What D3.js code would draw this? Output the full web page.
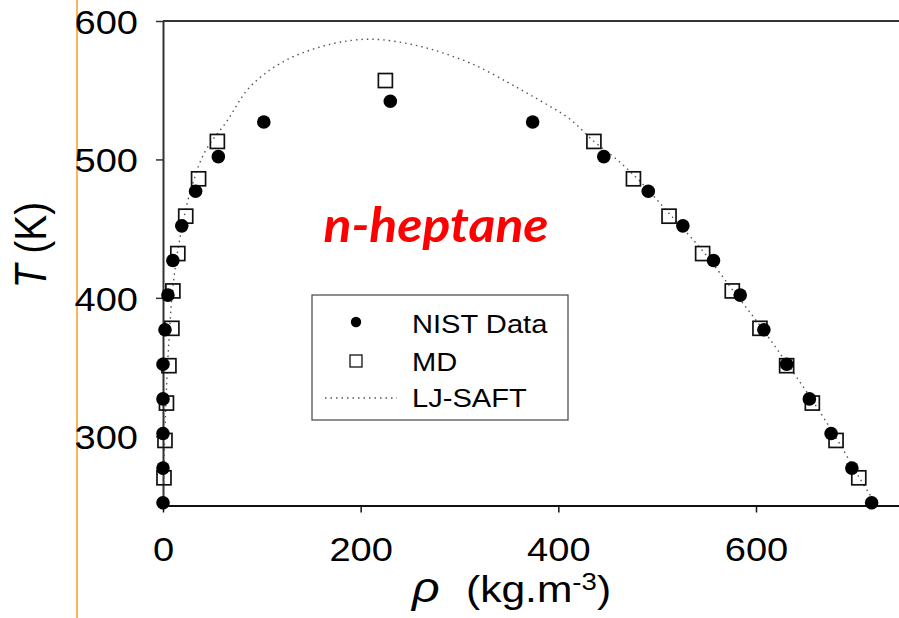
<!DOCTYPE html>
<html>
<head>
<meta charset="utf-8">
<script src="https://cdn.jsdelivr.net/npm/d3@7"></script>
<style>
  body { margin: 0; background: #fff; }
  svg { display: block; font-family: "Liberation Sans", Arial, sans-serif; }
</style>
</head>
<body>
<svg id="chart" width="899" height="618"></svg>
<script>
// NIST saturated densities (kg/m3)
let nistT = [252, 277, 302, 327, 352, 377, 402, 427, 452, 477, 502, 527];
let nistRhoV = [0, 0, 0, 0, 0, 2, 5, 10, 19, 33, 56, 102];
let nistRhoL = [717, 697, 676, 654, 631, 608, 584, 557, 526, 491, 446, 374];
let nistCrit = [230, 542];

// MD results
let mdT = [270, 297, 324, 351, 378, 405, 432, 459, 486, 513];
let mdRhoV = [1, 2, 3.5, 6, 9, 10, 15, 23, 36, 55];
let mdRhoL = [704, 681, 657, 631, 604, 576, 546, 512, 476, 436];
let mdCrit = [225, 557];

// LJ-SAFT curve, vapour branch then liquid branch
let saftRho = [0.3, 1, 1.8, 3, 4.5, 6.5, 9, 13, 19, 27, 42, 65, 85, 105, 128, 149, 171, 191, 207,
  222, 243, 263, 283, 316, 348, 368, 390, 412, 436, 459, 483, 512, 546, 576, 604, 631, 657, 681, 703, 722];
let saftT = [250, 275, 300, 325, 350, 375, 400, 425, 450, 475, 505, 528, 550, 563, 573, 579, 583.5, 586, 586.8,
  586.4, 584.3, 581.2, 577, 568, 556, 548, 539, 529, 513, 500, 484, 461, 434, 406, 380, 353, 326, 299, 272, 250];

let xTicks = [0, 200, 400, 600];
let yTicks = [300, 400, 500, 600];

let svg = d3.select("#chart");
let sx = 1.12; // the source picture is a bit wider than tall

// Set up the scales
let x = d3.scaleLinear().domain([0, 600]).range([163, 756]);
x.domain([0, x.invert(899)]).range([163, 899]);
let y = d3.scaleLinear().domain([250, 600]).range([505.5, 21]);

// orange rule on the left
svg.append("line")
  .attr("x1", 77).attr("x2", 77).attr("y1", 0).attr("y2", 618)
  .attr("stroke", "#fbb45c").attr("stroke-width", 2);

// top frame
svg.append("line")
  .attr("x1", 163).attr("x2", 899).attr("y1", y(600)).attr("y2", y(600))
  .attr("stroke", "#333").attr("stroke-width", 2);

// axes
let xAxis = svg.append("g")
  .attr("transform", "translate(0," + y(250) + ")")
  .call(d3.axisBottom(x).tickValues(xTicks).tickSize(7).tickSizeOuter(0));
xAxis.select(".domain").attr("stroke", "#111").attr("stroke-width", 2);
xAxis.selectAll(".tick line").attr("stroke", "#111").attr("stroke-width", 1.5);
xAxis.selectAll(".tick text")
  .attr("font-size", 34).attr("font-family", "Liberation Sans, Arial, sans-serif")
  .attr("fill", "#000").attr("y", 56).attr("dy", 0)
  .attr("transform", "scale(" + sx + ",1)");

let yAxis = svg.append("g")
  .attr("transform", "translate(" + x(0) + ",0)")
  .call(d3.axisLeft(y).tickValues(yTicks).tickSize(7).tickSizeOuter(0));
yAxis.select(".domain").attr("stroke", "#333").attr("stroke-width", 2);
yAxis.selectAll(".tick line").attr("stroke", "#333").attr("stroke-width", 1.5);
yAxis.selectAll(".tick text")
  .attr("font-size", 34).attr("font-family", "Liberation Sans, Arial, sans-serif")
  .attr("fill", "#000").attr("x", -25 / sx).attr("dy", "0.36em")
  .attr("transform", "scale(" + sx + ",1)");

// LJ-SAFT dotted curve
let saft = saftRho.map((r, i) => [r, saftT[i]]);
let line = d3.line()
  .x(d => x(d[0]))
  .y(d => y(d[1]))
  .curve(d3.curveCatmullRom);
svg.append("path")
  .datum(saft)
  .attr("d", line)
  .attr("fill", "none")
  .attr("stroke", "#555")
  .attr("stroke-width", 1.4)
  .attr("stroke-dasharray", "1.5,4");

// MD squares
let md = mdT.map((t, i) => [mdRhoV[i], t])
  .concat(mdT.map((t, i) => [mdRhoL[i], t]))
  .concat([mdCrit]);
svg.append("g").selectAll("rect")
  .data(md)
  .enter()
  .append("rect")
  .attr("x", d => x(d[0]) - 7)
  .attr("y", d => y(d[1]) - 7)
  .attr("width", 14)
  .attr("height", 14)
  .attr("fill", "none")
  .attr("stroke", "#111")
  .attr("stroke-width", 1.7);

// NIST circles
let nist = nistT.map((t, i) => [nistRhoV[i], t])
  .concat(nistT.map((t, i) => [nistRhoL[i], t]))
  .concat([nistCrit]);
svg.append("g").selectAll("circle")
  .data(nist)
  .enter()
  .append("circle")
  .attr("cx", d => x(d[0]))
  .attr("cy", d => y(d[1]))
  .attr("r", 6.8)
  .attr("fill", "#000");

// title
svg.append("text")
  .attr("transform", "translate(436,242) scale(1.1,1)")
  .attr("text-anchor", "middle")
  .attr("font-family", "Lato, sans-serif")
  .attr("font-weight", "bold")
  .attr("font-style", "italic")
  .attr("font-size", 47)
  .attr("fill", "#ff0000")
  .text("n-heptane");

// legend
let legend = svg.append("g");
legend.append("rect")
  .attr("x", 312).attr("y", 295).attr("width", 256).attr("height", 125)
  .attr("fill", "#fff").attr("stroke", "#444").attr("stroke-width", 1.2);
legend.append("circle").attr("cx", 356).attr("cy", 322).attr("r", 5.2).attr("fill", "#000");
legend.append("rect").attr("x", 350).attr("y", 355).attr("width", 12).attr("height", 12)
  .attr("fill", "none").attr("stroke", "#111").attr("stroke-width", 1.3);
legend.append("line").attr("x1", 325).attr("x2", 397).attr("y1", 398).attr("y2", 398)
  .attr("stroke", "#555").attr("stroke-width", 1.4).attr("stroke-dasharray", "1.5,4");
let legendLabels = ["NIST Data", "MD", "LJ-SAFT"];
legend.selectAll("text.lab")
  .data(legendLabels)
  .enter()
  .append("text")
  .attr("class", "lab")
  .attr("transform", (d, i) => "translate(412," + [333, 371, 407][i] + ") scale(" + sx + ",1)")
  .attr("font-size", 26)
  .attr("fill", "#000")
  .text(d => d);

// axis titles
let xt = svg.append("text")
  .attr("transform", "translate(412,602) scale(1.15,1)")
  .attr("font-size", 37)
  .attr("fill", "#000");
xt.append("tspan").attr("font-style", "italic").attr("font-size", 42).text("\u03c1");
xt.append("tspan").attr("x", (466 - 412) / 1.15).text("(kg.m");
xt.append("tspan").attr("font-size", 24).attr("dy", -12).text("-3");
xt.append("tspan").attr("dy", 12).text(")");

let yt = svg.append("text")
  .attr("transform", "translate(46,245) rotate(-90) scale(1,1.15)")
  .attr("text-anchor", "middle")
  .attr("font-size", 39)
  .attr("fill", "#000");
yt.append("tspan").attr("font-style", "italic").text("T");
yt.append("tspan").text(" (K)");
</script>
</body>
</html>
